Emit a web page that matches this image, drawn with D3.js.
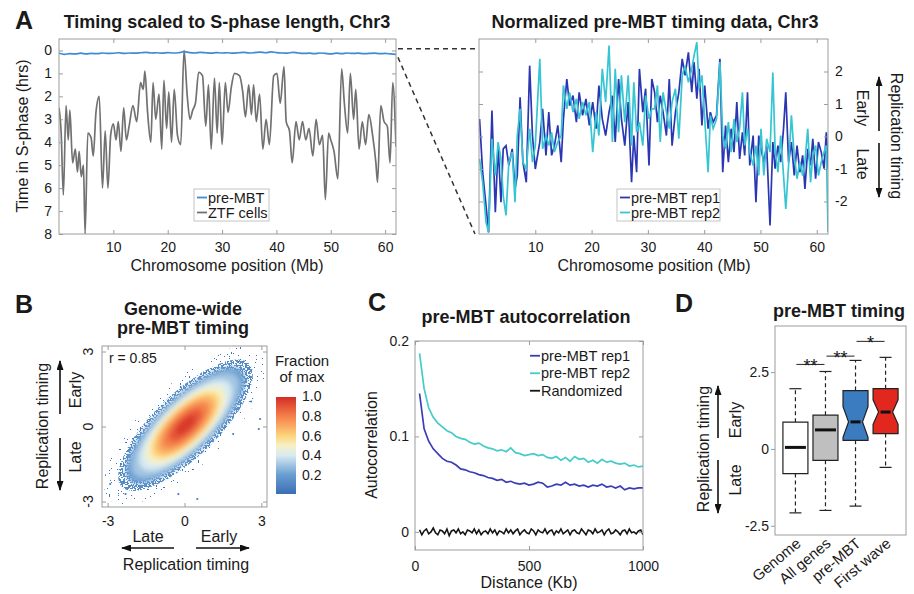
<!DOCTYPE html>
<html>
<head>
<meta charset="utf-8">
<script src="https://cdn.jsdelivr.net/npm/d3@7"></script>
<style>
  body { margin: 0; background: #fff; }
  svg text { font-family: "Liberation Sans", Arial, Helvetica, sans-serif; fill: #1a1a1a; }
</style>
</head>
<body>
<div id="fig"></div>
<script>
// ---------- data: panel A, left (hours into S-phase) ----------
let ztfPosMb = [0,0.4,0.8,1.3,1.7,2.0,2.5,3.0,3.4,3.7,4.1,4.5,4.8,5.3,5.9,6.3,6.8,7.4,8.0,8.5,
  9.0,9.5,10.0,10.5,10.9,11.4,11.9,12.4,12.9,13.6,14.3,15.0,15.5,15.8,16.3,16.9,17.3,17.8,18.4,18.9,
  19.3,19.8,20.2,20.7,21.2,21.8,22.4,23.0,23.6,24.1,24.6,25.1,25.7,26.4,27.0,27.5,28.0,28.6,29.1,29.5,
  30.0,30.6,31.1,31.7,32.3,33.2,33.8,34.3,34.9,35.4,35.8,36.3,36.9,37.5,38.1,38.7,39.5,40.1,40.7,41.4,
  41.8,42.4,42.9,43.6,44.2,44.8,45.4,46.0,46.7,47.3,47.9,48.5,49.0,49.6,50.0,50.6,51.3,52.0,52.5,53.1,
  53.6,54.2,54.6,55.2,55.8,56.4,57.0,57.7,58.3,58.6,59.2,59.8,60.4,60.9,61.4,62.0];
let ztfHours = [2.5,3.6,6.3,2.4,3.9,2.6,4.9,4.3,5.3,4.4,5.5,5.0,8.0,3.6,3.8,4.6,2.7,2.0,6.0,3.5,
  6.0,3.7,3.2,3.9,3.1,4.4,2.5,3.9,3.3,2.4,3.1,1.4,1.7,0.9,2.7,4.0,1.4,3.0,1.9,4.3,
  1.3,3.4,1.8,4.0,1.7,3.7,4.1,0.0,2.0,3.0,2.6,2.3,0.95,1.1,3.3,1.5,4.3,1.2,3.6,1.4,
  4.1,1.4,2.7,1.6,1.0,1.1,1.8,2.9,1.5,2.8,1.5,3.1,1.9,4.3,3.0,4.1,1.1,1.0,2.3,0.7,
  3.1,3.5,4.9,3.1,3.9,3.1,3.9,3.4,4.6,3.0,4.1,3.7,6.5,3.6,3.9,4.4,5.6,0.8,2.3,3.6,
  1.0,3.0,1.7,4.3,3.1,4.1,2.8,3.7,4.9,5.75,2.4,3.1,3.3,4.9,1.4,4.2];
let premStepMb = 1;
let premHours = [0.12,0.17,0.14,0.15,0.12,0.15,0.13,0.14,0.11,0.13,0.12,0.10,0.13,0.11,0.12,0.10,0.08,0.11,0.10,0.12,
  0.09,0.11,0.10,0.05,0.09,0.11,0.08,0.10,0.12,0.09,0.11,0.10,0.12,0.10,0.08,0.11,0.09,0.07,0.10,0.06,
  0.09,0.11,0.12,0.08,0.11,0.13,0.12,0.14,0.11,0.13,0.15,0.12,0.14,0.11,0.13,0.12,0.14,0.13,0.12,0.14,
  0.13,0.15,0.17];
let leftYTicks = [0,1,2,3,4,5,6,7,8];
let chrXTicks = [10,20,30,40,50,60];

// ---------- data: panel A, right (normalized timing) ----------
let repPosMb = [0.1,0.65,1.25,1.7,2.3,2.9,3.4,3.9,4.3,4.8,5.3,5.9,6.4,6.8,7.3,7.8,8.4,9.0,9.5,10.0,
  10.8,11.3,11.9,12.4,12.9,13.4,14.0,14.6,15.0,15.6,16.1,16.7,17.3,17.8,18.4,19.0,19.6,20.2,20.8,21.3,
  21.9,22.5,23.1,23.7,24.2,24.8,25.3,25.9,26.5,27.1,27.5,28.0,28.5,29.1,29.6,30.2,30.7,
  31.2,31.7,32.2,32.7,33.3,33.8,34.3,34.9,35.5,36.1,36.6,37.2,37.8,38.2,38.7,39.1,39.6,40.1,40.7,41.1,
  41.6,42.2,42.8,43.3,43.8,44.3,44.8,45.3,45.8,46.3,46.8,47.2,47.7,48.1,48.7,49.2,49.7,50.1,50.6,51.1,
  51.7,52.2,52.6,53.1,53.6,54.1,54.5,55.0,55.5,56.0,56.5,57.0,57.5,57.9,58.4,58.9,59.3,59.8,60.3,60.8,
  61.3,61.7,62.0];
let rep1Timing = [0.54,-1.10,-2.13,-2.95,0.80,-2.33,-0.28,-2.02,-0.38,-0.28,-0.89,-0.38,-1.61,-1.20,1.21,-0.79,-1.41,2.18,0.03,-1.00,
  -0.17,0.85,-0.58,0.75,-0.58,-0.28,0.34,-0.79,0.54,1.77,0.95,1.26,0.44,1.36,0.65,1.16,0.34,1.06,0.24,1.57,
  0.54,0.03,0.75,1.26,-0.17,1.77,0.54,-0.28,1.06,-1.41,0.03,-1.10,2.08,0.75,1.47,-0.89,1.77,
  1.36,0.44,1.26,0.75,0.03,1.77,-0.28,0.75,1.36,2.39,1.88,2.59,1.36,2.29,1.16,2.08,0.34,1.57,0.24,0.75,
  0.44,0.65,2.39,-1.10,0.34,-0.79,0.24,-0.48,1.06,-0.69,0.13,-0.58,1.36,-0.89,0.03,-2.02,0.03,-0.38,-0.79,-0.28,
  -2.74,-0.17,-0.99,-0.28,-0.79,0.24,1.36,-0.79,-0.17,-1.20,-0.28,-1.10,-0.58,-1.61,-0.38,-0.89,-0.07,-1.30,-0.17,-0.48,
  -0.99,0.13,-0.99];
let rep2Timing = [-0.69,-1.41,-2.64,-2.94,-0.07,-1.20,-0.17,-0.69,-1.82,-2.43,-0.79,-0.48,-2.02,0.03,0.85,-0.79,-1.00,0.24,-0.79,-0.28,
  2.39,-0.38,0.03,-0.28,0.13,-0.48,-0.17,0.03,1.57,0.85,1.36,0.75,1.16,0.54,1.06,0.65,1.06,-0.48,0.75,0.03,
  2.08,1.06,2.80,-0.17,2.08,0.13,1.88,0.44,1.88,-0.28,1.67,0.13,0.44,-0.28,1.26,0.54,0.85,
  0.85,1.57,-0.17,1.36,0.75,0.24,1.06,1.47,-0.07,1.88,2.18,1.67,2.08,2.49,2.90,1.47,1.88,0.54,-1.10,0.65,
  0.24,0.54,2.29,0.03,-0.38,0.44,-0.48,0.54,-0.17,0.24,1.36,-0.28,0.24,-0.48,-0.89,-0.28,-1.20,0.24,-1.20,-0.07,
  -0.48,1.97,-0.38,-1.10,0.03,-1.20,-2.23,-0.89,0.65,-0.58,-1.30,-0.79,-1.20,-0.79,0.24,-1.41,-0.58,-0.28,-1.20,-0.79,
  -0.48,-0.28,-2.94];
let rightYTicks = [-2,-1,0,1,2];

let bLevels    = [0.03, 0.12, 0.2, 0.3, 0.4, 0.5, 0.6, 0.7, 0.8, 0.9, 0.97];
let bSemiMajor = [4.2, 3.5, 3.1, 2.8, 2.4, 2.05, 1.75, 1.5, 1.2, 0.85, 0.5];
let bSemiMinor = [1.6, 1.25, 1.1, 1.0, 0.9, 0.8, 0.7, 0.6, 0.48, 0.34, 0.2];
let bCenter = [0.04, 0.05];
let bOutX = [-0.24, 0.5, 2.9, 2.95, -2.3, 2.6, 1.9, -2.9];
let bOutY = [-2.7, -2.9, -0.1, 0.3, -2.7, 1.0, -0.3, -2.3];
let bTicks = [-3, 0, 3];
let rValue = 0.85;
let cbarTicks = [0.2, 0.4, 0.6, 0.8, 1.0];

// ---------- data: panel C (autocorrelation) ----------
let acStartKb = 20, acStepKb = 20;
let acRep1 = [0.145,0.108,0.095,0.087,0.082,0.077,0.074,0.073,0.070,0.066,
  0.065,0.063,0.062,0.060,0.059,0.057,0.056,0.054,0.055,0.052,
  0.053,0.051,0.050,0.051,0.049,0.050,0.052,0.051,0.047,0.048,
  0.050,0.049,0.052,0.049,0.050,0.048,0.049,0.047,0.049,0.048,
  0.050,0.047,0.048,0.046,0.048,0.044,0.046,0.045,0.046,0.046];
let acRep2 = [0.187,0.150,0.130,0.120,0.114,0.110,0.106,0.104,0.100,0.098,
  0.097,0.094,0.092,0.093,0.090,0.088,0.087,0.085,0.086,0.084,
  0.088,0.083,0.082,0.080,0.081,0.082,0.080,0.081,0.078,0.077,
  0.079,0.075,0.078,0.074,0.079,0.076,0.077,0.073,0.075,0.072,
  0.076,0.073,0.074,0.072,0.071,0.072,0.069,0.070,0.068,0.069];
let randStepKb = 10;
let acRandom = [0.002,-0.003,0.001,0.003,-0.002,0.000,0.004,-0.001,-0.003,0.002,
  0.001,-0.002,0.003,-0.004,0.001,0.002,-0.001,0.003,-0.002,0.000,
  -0.003,0.002,0.001,-0.001,0.003,-0.002,0.002,-0.003,0.000,0.001,
  -0.002,0.003,-0.001,0.002,-0.003,0.001,0.000,-0.002,0.003,-0.001,
  0.002,-0.002,0.001,0.003,-0.003,0.000,0.002,-0.001,-0.002,0.003,
  0.001,-0.003,0.002,0.000,-0.001,0.003,-0.002,0.001,0.002,-0.003,
  0.001,-0.001,0.003,-0.002,0.000,0.002,-0.003,0.001,0.002,-0.001,
  -0.002,0.003,0.000,-0.003,0.002,0.001,-0.002,0.003,-0.001,0.000,
  0.002,-0.003,0.001,0.003,-0.002,-0.001,0.002,0.000,-0.003,0.001,
  0.002,-0.002,0.003,-0.001,0.000,-0.002,0.001,0.002,-0.003];
let acXTicks = [0, 500, 1000];
let acYTicks = [0, 0.1, 0.2];

// ---------- data: panel D (box plots) ----------
let boxCats  = ['Genome', 'All genes', 'pre-MBT', 'First wave'];
let boxLow   = [-2.08, -2.00, -1.86, -0.60];
let boxQ1    = [-0.80, -0.37, 0.28, 0.50];
let boxMed   = [0.05, 0.62, 0.88, 1.20];
let boxQ3    = [0.87, 1.10, 1.90, 1.96];
let boxHigh  = [1.96, 2.52, 2.88, 2.98];
let boxNotch = [0, 0, 0.5, 0.4];
let sigFrom  = [0, 1, 2];
let sigTo    = [1, 2, 3];
let sigY     = [2.75, 3.02, 3.5];
let sigMark  = ['**', '**', '*'];
let dYTicks  = [-2.5, 0, 2.5];

// ---------- drawing ----------
let svg = d3.select('#fig').append('svg').attr('width', 914).attr('height', 594);
let defs = svg.append('defs');

defs.append('marker')
	.attr('id', 'arrowHead')
	.attr('viewBox', '0 0 10 7')
	.attr('refX', 9).attr('refY', 3.5)
	.attr('markerWidth', 10).attr('markerHeight', 7)
	.attr('markerUnits', 'userSpaceOnUse')
	.attr('orient', 'auto')
	.append('path').attr('d', 'M0,0 L10,3.5 L0,7 z').attr('fill', '#111');

function addText(g, str, x, y, size, opts) {
	opts = opts || {};
	let t = g.append('text').text(str)
		.attr('x', x).attr('y', y)
		.attr('font-size', size)
		.attr('text-anchor', opts.anchor || 'middle');
	if (opts.bold) t.attr('font-weight', 'bold');
	if (opts.dy) t.attr('dy', opts.dy);
	if (opts.rotate) t.attr('transform', 'rotate(' + opts.rotate + ',' + x + ',' + y + ')');
	return t;
}

function arrow(g, x1, y1, x2, y2) {
	g.append('line')
		.attr('x1', x1).attr('y1', y1).attr('x2', x2).attr('y2', y2)
		.attr('stroke', '#111').attr('stroke-width', 1.6)
		.attr('marker-end', 'url(#arrowHead)');
}

function styleAxis(sel) {
	sel.select('.domain').remove();
	sel.selectAll('.tick line').attr('stroke', '#9c9c9c');
	sel.selectAll('.tick text').attr('font-size', 14).attr('fill', '#1a1a1a')
		.attr('font-family', '"Liberation Sans", Arial, sans-serif');
}

// MATLAB-like box with inward ticks on every side
function frame(g, x, y, o) {
	let x0 = d3.min(x.range()), x1 = d3.max(x.range());
	let y0 = d3.min(y.range()), y1 = d3.max(y.range());
	let fmt = d => String(d);
	if (o.xTicks) {
		g.append('g').attr('transform', 'translate(0,' + y1 + ')')
			.call(d3.axisBottom(x).tickValues(o.xTicks).tickSize(-4).tickPadding(o.xPad || 8)
				.tickFormat(o.noXLabels ? '' : fmt))
			.call(styleAxis);
		g.append('g').attr('transform', 'translate(0,' + y0 + ')')
			.call(d3.axisTop(x).tickValues(o.xTicks).tickSize(-4).tickFormat(''))
			.call(styleAxis);
	}
	if (o.yTicks) {
		g.append('g').attr('transform', 'translate(' + x0 + ',0)')
			.call(d3.axisLeft(y).tickValues(o.yTicks).tickSize(-4).tickPadding(o.yPad || 7)
				.tickFormat(o.yRight || o.noYLabels ? '' : fmt))
			.call(styleAxis);
		g.append('g').attr('transform', 'translate(' + x1 + ',0)')
			.call(d3.axisRight(y).tickValues(o.yTicks).tickSize(-4).tickPadding(o.yPad || 7)
				.tickFormat(o.yRight ? fmt : ''))
			.call(styleAxis);
	}
	g.append('rect')
		.attr('x', x0).attr('y', y0).attr('width', x1 - x0).attr('height', y1 - y0)
		.attr('fill', 'none').attr('stroke', '#9c9c9c').attr('stroke-width', 1);
}

function legend(g, x, y, rowH, items, boxW, size) {
	if (boxW) {
		g.append('rect').attr('x', x).attr('y', y)
			.attr('width', boxW).attr('height', rowH * items.length + 2)
			.attr('fill', '#fff').attr('stroke', '#c4c4c4');
	}
	items.forEach(function(it, i) {
		let cy = y + 1 + rowH * (i + 0.5);
		g.append('line').attr('x1', x + 3).attr('x2', x + 13).attr('y1', cy).attr('y2', cy)
			.attr('stroke', it.color).attr('stroke-width', 1.8);
		addText(g, it.label, x + 14, cy, size || 14.5, { anchor: 'start', dy: '0.35em' });
	});
}

function clipRect(id, x, y) {
	defs.append('clipPath').attr('id', id).append('rect')
		.attr('x', d3.min(x.range())).attr('y', d3.min(y.range()))
		.attr('width', d3.max(x.range()) - d3.min(x.range()))
		.attr('height', d3.max(y.range()) - d3.min(y.range()));
}

// ===== Panel A left =====
let xL = d3.scaleLinear().domain([0, 62]).range([59, 396]);
let yL = d3.scaleLinear().domain([-0.5, 8]).range([39, 234]);
let gAL = svg.append('g');
clipRect('clipAL', xL, yL);
addText(gAL, 'A', 15, 29, 25, { anchor: 'start', bold: true });
addText(gAL, 'Timing scaled to S-phase length, Chr3', 227, 28, 18, { bold: true });

let lineZtf = d3.line().x((d, i) => xL(ztfPosMb[i])).y(d => yL(d)).curve(d3.curveMonotoneX);
let linePrem = d3.line().x((d, i) => xL(i * premStepMb)).y(d => yL(d)).curve(d3.curveMonotoneX);
let plotAL = gAL.append('g').attr('clip-path', 'url(#clipAL)');
plotAL.append('path').datum(ztfHours).attr('d', lineZtf)
	.attr('fill', 'none').attr('stroke', '#717171').attr('stroke-width', 1.7);
plotAL.append('path').datum(premHours).attr('d', linePrem)
	.attr('fill', 'none').attr('stroke', '#3d8bd4').attr('stroke-width', 1.7);
frame(gAL, xL, yL, { xTicks: chrXTicks, yTicks: leftYTicks });
addText(gAL, 'Time in S-phase (hrs)', 22, 136, 16, { rotate: -90, dy: '0.35em' });
addText(gAL, 'Chromosome position (Mb)', 227, 271, 16);
legend(gAL, 194, 189, 15, [
	{ label: 'pre-MBT', color: '#3d8bd4' },
	{ label: 'ZTF cells', color: '#717171' }
], 75);

// ===== Panel A right =====
let xR = d3.scaleLinear().domain([0, 62]).range([479, 828]);
let yR = d3.scaleLinear().domain([-3, 3]).range([234, 39]);
let gAR = svg.append('g');
clipRect('clipAR', xR, yR);
addText(gAR, 'Normalized pre-MBT timing data, Chr3', 655, 28, 18, { bold: true });
let lineRep = d3.line().x((d, i) => xR(repPosMb[i])).y(d => yR(d));
let plotAR = gAR.append('g').attr('clip-path', 'url(#clipAR)');
plotAR.append('path').datum(rep1Timing).attr('d', lineRep)
	.attr('fill', 'none').attr('stroke', '#2b36b3').attr('stroke-width', 1.7);
plotAR.append('path').datum(rep2Timing).attr('d', lineRep)
	.attr('fill', 'none').attr('stroke', '#36c5d2').attr('stroke-width', 1.7);
frame(gAR, xR, yR, { xTicks: chrXTicks, yTicks: rightYTicks, yRight: true });
addText(gAR, 'Chromosome position (Mb)', 654, 271, 16);
legend(gAR, 617, 189, 15, [
	{ label: 'pre-MBT rep1', color: '#2b36b3' },
	{ label: 'pre-MBT rep2', color: '#36c5d2' }
], 103);
addText(gAR, 'Replication timing', 897, 136, 16, { rotate: 90, dy: '0.35em' });
addText(gAR, 'Early', 863, 108, 16, { rotate: 90, dy: '0.35em' });
addText(gAR, 'Late', 863, 164, 16, { rotate: 90, dy: '0.35em' });
arrow(gAR, 879, 131, 879, 77);
arrow(gAR, 879, 143, 879, 197);

// dashed zoom guides
let guide = svg.append('g').attr('stroke', '#333').attr('stroke-width', 1.5)
	.attr('stroke-dasharray', '5,4').attr('fill', 'none');
guide.append('line').attr('x1', xL(62) + 2).attr('y1', yL(-0.08)).attr('x2', xR(0) - 1).attr('y2', yL(-0.08));
guide.append('line').attr('x1', xL(62) + 2).attr('y1', yL(0.3)).attr('x2', xR(0) - 4).attr('y2', yR(-3));

// ===== Panel B =====
let xB = d3.scaleLinear().domain([-3.22, 3.22]).range([102, 267]);
let yB = d3.scaleLinear().domain([-3.22, 3.22]).range([507, 346]);
let cmap = d3.scaleLinear()
	.domain([0, 0.2, 0.4, 0.5, 0.6, 0.8, 1])
	.range(['#3b6db4', '#6a9fd2', '#d9ebf1', '#f6f1c4', '#fdd47c', '#f5804a', '#d42d26']);
let gB = svg.append('g');
clipRect('clipB', xB, yB);

function speckle(id, freq, table, seed) {
	let f = defs.append('filter').attr('id', id)
		.attr('x', '-5%').attr('y', '-5%').attr('width', '110%').attr('height', '110%');
	f.append('feTurbulence').attr('type', 'fractalNoise').attr('baseFrequency', freq)
		.attr('numOctaves', 1).attr('seed', seed).attr('result', 'noise');
	f.append('feColorMatrix').attr('in', 'noise').attr('type', 'matrix')
		.attr('values', '0 0 0 0 0  0 0 0 0 0  0 0 0 0 0  1 0 0 0 0').attr('result', 'na');
	f.append('feComponentTransfer').attr('in', 'na').attr('result', 'mask')
		.append('feFuncA').attr('type', 'discrete').attr('tableValues', table);
	f.append('feComposite').attr('in', 'SourceGraphic').attr('in2', 'mask').attr('operator', 'in');
}
speckle('speckleSparse', 0.55, '0 0 0 0 0 0 0 1 1 1', 4);
speckle('speckleDense', 0.55, '0 0 0 0 0 1 1 1 1 1', 7);
defs.append('filter').attr('id', 'soft').append('feGaussianBlur').attr('stdDeviation', 2.5);

function ellipsePath(a, b) {
	let pts = d3.range(0, 360, 4).map(function(deg) {
		let t = deg * Math.PI / 180;
		let u = a * Math.cos(t), v = b * Math.sin(t);
		return [bCenter[0] + (u - v) / Math.SQRT2, bCenter[1] + (u + v) / Math.SQRT2];
	});
	return d3.line().x(p => xB(p[0])).y(p => yB(p[1])).curve(d3.curveLinearClosed)(pts);
}

let cloud = gB.append('g').attr('clip-path', 'url(#clipB)');
let fringe = cloud.append('g');
let solid = cloud.append('g').attr('filter', 'url(#soft)');
bLevels.forEach(function(lv, i) {
	let target = lv < 0.15 ? fringe : solid;
	let p = target.append('path').attr('d', ellipsePath(bSemiMajor[i], bSemiMinor[i]))
		.attr('fill', cmap(lv));
	if (lv < 0.05) p.attr('filter', 'url(#speckleSparse)');
	else if (lv < 0.15) p.attr('filter', 'url(#speckleDense)');
});
fringe.selectAll('circle').data(bOutX).enter().append('circle')
	.attr('cx', d => xB(d)).attr('cy', (d, i) => yB(bOutY[i])).attr('r', 1.1).attr('fill', cmap(0.05));

frame(gB, xB, yB, { xTicks: bTicks, yTicks: bTicks, noYLabels: true, xPad: 9 });
bTicks.forEach(function(t) {
	addText(gB, String(t), 88, yB(t), 14, { rotate: -90, dy: '0.35em' });
});
addText(gB, 'B', 15, 313, 25, { anchor: 'start', bold: true });
addText(gB, 'Genome-wide', 183, 315, 18, { bold: true });
addText(gB, 'pre-MBT timing', 183, 334, 18, { bold: true });
addText(gB, 'r = ' + rValue, 109, 363, 14, { anchor: 'start' });

addText(gB, 'Replication timing', 42, 426, 16, { rotate: -90, dy: '0.35em' });
addText(gB, 'Early', 75, 390, 16, { rotate: -90, dy: '0.35em' });
addText(gB, 'Late', 75, 457, 16, { rotate: -90, dy: '0.35em' });
arrow(gB, 60, 414, 60, 361);
arrow(gB, 60, 438, 60, 490);
addText(gB, 'Late', 148, 542, 16);
addText(gB, 'Early', 219, 542, 16);
arrow(gB, 174, 548, 122, 548);
arrow(gB, 196, 548, 249, 548);
addText(gB, 'Replication timing', 186, 570, 16);

// colour bar
let cb = d3.scaleLinear().domain([0, 1]).range([495, 396]);
let grad = defs.append('linearGradient').attr('id', 'cbarGrad')
	.attr('x1', 0).attr('y1', 1).attr('x2', 0).attr('y2', 0);
d3.range(0, 1.0001, 0.1).forEach(function(s) {
	grad.append('stop').attr('offset', s).attr('stop-color', cmap(s));
});
gB.append('rect').attr('x', 276).attr('y', 397).attr('width', 20).attr('height', 97)
	.attr('fill', 'url(#cbarGrad)');
cbarTicks.forEach(function(t) {
	addText(gB, t.toFixed(1), 302, cb(t), 14, { anchor: 'start', dy: '0.35em' });
});
addText(gB, 'Fraction', 302, 366, 15);
addText(gB, 'of max', 302, 382, 15);

// ===== Panel C =====
let xC = d3.scaleLinear().domain([0, 1000]).range([415, 643]);
let yC = d3.scaleLinear().domain([-0.019, 0.2]).range([550, 341]);
let gC = svg.append('g');
clipRect('clipC', xC, yC);
addText(gC, 'C', 368, 311, 25, { anchor: 'start', bold: true });
addText(gC, 'pre-MBT autocorrelation', 526, 323, 18, { bold: true });
let plotC = gC.append('g').attr('clip-path', 'url(#clipC)');
let lineAc = d3.line().x((d, i) => xC(acStartKb + i * acStepKb)).y(d => yC(d));
let lineRand = d3.line().x((d, i) => xC(acStartKb + i * randStepKb)).y(d => yC(d));
plotC.append('path').datum(acRandom).attr('d', lineRand)
	.attr('fill', 'none').attr('stroke', '#151515').attr('stroke-width', 1.6);
plotC.append('path').datum(acRep2).attr('d', lineAc)
	.attr('fill', 'none').attr('stroke', '#45cbc9').attr('stroke-width', 1.7);
plotC.append('path').datum(acRep1).attr('d', lineAc)
	.attr('fill', 'none').attr('stroke', '#3a3db6').attr('stroke-width', 1.7);
frame(gC, xC, yC, { xTicks: acXTicks, yTicks: acYTicks, xPad: 11, yPad: 6 });
legend(gC, 527, 346, 17.5, [
	{ label: 'pre-MBT rep1', color: '#3a3db6' },
	{ label: 'pre-MBT rep2', color: '#45cbc9' },
	{ label: 'Randomized', color: '#151515' }
], 0, 14.5);
addText(gC, 'Autocorrelation', 371, 445, 16, { rotate: -90, dy: '0.35em' });
addText(gC, 'Distance (Kb)', 529, 588, 16);

// ===== Panel D =====
let xD = d3.scalePoint().domain(boxCats).range([775, 906]).padding(0.68);
let yD = d3.scaleLinear().domain([-2.8, 4.0]).range([535, 326]);
let boxFill = ['#ffffff', '#bfbfbf', '#3b7bc0', '#e2271f'];
let gD = svg.append('g');
addText(gD, 'D', 675, 312, 25, { anchor: 'start', bold: true });
addText(gD, 'pre-MBT timing', 839, 317, 18, { bold: true });
gD.append('rect').attr('x', 775).attr('y', 326).attr('width', 131).attr('height', 209)
	.attr('fill', 'none').attr('stroke', '#9c9c9c');
gD.append('g').attr('transform', 'translate(775,0)')
	.call(d3.axisLeft(yD).tickValues(dYTicks).tickSize(4).tickPadding(2).tickFormat(d => String(d)))
	.call(styleAxis);

let bw = 25;
boxCats.forEach(function(c, i) {
	let cx = xD(c), x0 = cx - bw / 2, x1 = cx + bw / 2;
	let g = gD.append('g');
	// whiskers
	g.append('line').attr('x1', cx).attr('x2', cx).attr('y1', yD(boxQ3[i])).attr('y2', yD(boxHigh[i]))
		.attr('stroke', '#222').attr('stroke-dasharray', '4,3').attr('stroke-width', 1.2);
	g.append('line').attr('x1', cx).attr('x2', cx).attr('y1', yD(boxQ1[i])).attr('y2', yD(boxLow[i]))
		.attr('stroke', '#222').attr('stroke-dasharray', '4,3').attr('stroke-width', 1.2);
	[boxHigh[i], boxLow[i]].forEach(function(v) {
		g.append('line').attr('x1', cx - 6).attr('x2', cx + 6).attr('y1', yD(v)).attr('y2', yD(v))
			.attr('stroke', '#222').attr('stroke-width', 1.2);
	});
	// box (notched when a notch width is given)
	let n = boxNotch[i], inset = n ? bw * 0.22 : 0;
	let path = n
		? 'M' + x0 + ',' + yD(boxQ1[i]) + 'L' + x0 + ',' + yD(boxMed[i] - n) + 'L' + (x0 + inset) + ',' + yD(boxMed[i]) +
		  'L' + x0 + ',' + yD(boxMed[i] + n) + 'L' + x0 + ',' + yD(boxQ3[i]) + 'L' + x1 + ',' + yD(boxQ3[i]) +
		  'L' + x1 + ',' + yD(boxMed[i] + n) + 'L' + (x1 - inset) + ',' + yD(boxMed[i]) + 'L' + x1 + ',' + yD(boxMed[i] - n) +
		  'L' + x1 + ',' + yD(boxQ1[i]) + 'Z'
		: 'M' + x0 + ',' + yD(boxQ1[i]) + 'L' + x0 + ',' + yD(boxQ3[i]) + 'L' + x1 + ',' + yD(boxQ3[i]) +
		  'L' + x1 + ',' + yD(boxQ1[i]) + 'Z';
	g.append('path').attr('d', path).attr('fill', boxFill[i]).attr('stroke', '#222').attr('stroke-width', 1.2);
	g.append('line').attr('x1', x0 + inset + 2).attr('x2', x1 - inset - 2)
		.attr('y1', yD(boxMed[i])).attr('y2', yD(boxMed[i]))
		.attr('stroke', '#111').attr('stroke-width', 3);
	addText(gD, c, cx + 3, 541, 15, { anchor: 'end', rotate: -40, dy: '0.35em' });
});
sigFrom.forEach(function(f, i) {
	let xa = xD(boxCats[f]) + 1, xb = xD(boxCats[sigTo[i]]) - 1;
	gD.append('line').attr('x1', xa).attr('x2', xb).attr('y1', yD(sigY[i])).attr('y2', yD(sigY[i]))
		.attr('stroke', '#222').attr('stroke-width', 1);
	addText(gD, sigMark[i], (xa + xb) / 2, yD(sigY[i]) + 8, 18);
});
addText(gD, 'Replication timing', 703, 449, 16, { rotate: -90, dy: '0.35em' });
addText(gD, 'Early', 735, 420, 16, { rotate: -90, dy: '0.35em' });
addText(gD, 'Late', 735, 480, 16, { rotate: -90, dy: '0.35em' });
arrow(gD, 718, 438, 718, 386);
arrow(gD, 718, 460, 718, 513);
</script>
</body>
</html>
